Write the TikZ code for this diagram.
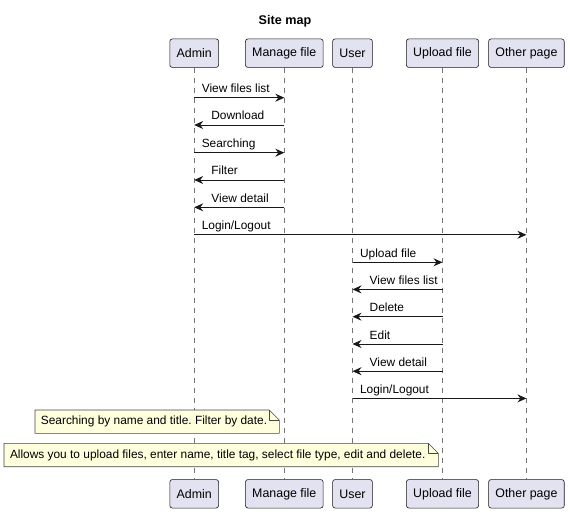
\documentclass[tikz,border=0pt]{standalone}
\usepackage{fontspec}
\setmainfont{Liberation Sans}
\usetikzlibrary{arrows.meta}
\definecolor{partfill}{HTML}{E2E2F0}
\definecolor{ink}{HTML}{181818}
\definecolor{notefill}{HTML}{FEFFDD}
\frenchspacing
\begin{document}
\begin{tikzpicture}[x=1pt,y=-1pt,
  part/.style={draw=ink, fill=partfill, line width=0.6pt, rounded corners=2.5pt,
    inner xsep=6.8pt, inner ysep=0pt, minimum height=28.5pt,
    font=\fontsize{12.4}{14}\selectfont},
  life/.style={draw=ink!60, line width=0.6pt, dash pattern=on 5pt off 5pt},
  msg/.style={draw=ink, line width=0.9pt,
    -{Stealth[length=9pt,width=8pt,inset=3pt]}},
  lbl/.style={inner sep=0pt, anchor=base west, font=\fontsize{11.9}{13}\selectfont},
  notebox/.style={draw=ink!80, fill=notefill, line width=0.6pt, line join=round},
  notetext/.style={inner sep=0pt, anchor=west, font=\fontsize{11.9}{13}\selectfont}]
\useasboundingbox (0,0) rectangle (570,513);

% title
\node[font=\bfseries\fontsize{12.6}{14}\selectfont] (title) at (285,21) {Site map};

% participants, top and bottom
\node[part] (aT)  at (194.2,53.2) {Admin};
\node[part] (mT)  at (284.3,53.2) {Manage file};
\node[part] (uT)  at (352.5,53.2) {User};
\node[part] (upT) at (442.5,53.2) {Upload file};
\node[part] (oT)  at (526.4,53.2) {Other page};
\node[part] (aB)  at (194.2,493.8) {Admin};
\node[part] (mB)  at (284.3,493.8) {Manage file};
\node[part] (uB)  at (352.5,493.8) {User};
\node[part] (upB) at (442.5,493.8) {Upload file};
\node[part] (oB)  at (526.4,493.8) {Other page};

% lifelines
\draw[life] (aT.south) -- (aB.north);
\draw[life] (mT.south) -- (mB.north);
\draw[life] (uT.south) -- (uB.north);
\draw[life] (upT.south) -- (upB.north);
\draw[life] (oT.south) -- (oB.north);

% message rows
\coordinate (r1) at (0,97.7);
\coordinate (r2) at (0,125);
\coordinate (r3) at (0,152.7);
\coordinate (r4) at (0,180);
\coordinate (r5) at (0,207.3);
\coordinate (r6) at (0,234.8);
\coordinate (r7) at (0,262.3);
\coordinate (r8) at (0,289.4);
\coordinate (r9) at (0,316.7);
\coordinate (r10) at (0,344);
\coordinate (r11) at (0,371.2);
\coordinate (r12) at (0,398.4);

% Admin <-> Manage file
\draw[msg] (aT |- r1) -- (mT |- r1);
\node[lbl] (l1) at ([xshift=7.4pt,yshift=5pt]aT |- r1) {View files list};
\draw[msg] (mT |- r2) -- (aT |- r2);
\node[lbl] (l2) at ([xshift=17pt,yshift=5pt]aT |- r2) {Download};
\draw[msg] (aT |- r3) -- (mT |- r3);
\node[lbl] (l3) at ([xshift=7.4pt,yshift=5pt]aT |- r3) {Searching};
\draw[msg] (mT |- r4) -- (aT |- r4);
\node[lbl] (l4) at ([xshift=17pt,yshift=5pt]aT |- r4) {Filter};
\draw[msg] (mT |- r5) -- (aT |- r5);
\node[lbl] (l5) at ([xshift=17pt,yshift=5pt]aT |- r5) {View detail};
\draw[msg] (aT |- r6) -- (oT |- r6);
\node[lbl] (l6) at ([xshift=7.4pt,yshift=5pt]aT |- r6) {Login/Logout};

% User <-> Upload file
\draw[msg] (uT |- r7) -- (upT |- r7);
\node[lbl] (l7) at ([xshift=7.4pt,yshift=5pt]uT |- r7) {Upload file};
\draw[msg] (upT |- r8) -- (uT |- r8);
\node[lbl] (l8) at ([xshift=17pt,yshift=5pt]uT |- r8) {View files list};
\draw[msg] (upT |- r9) -- (uT |- r9);
\node[lbl] (l9) at ([xshift=17pt,yshift=5pt]uT |- r9) {Delete};
\draw[msg] (upT |- r10) -- (uT |- r10);
\node[lbl] (l10) at ([xshift=17pt,yshift=5pt]uT |- r10) {Edit};
\draw[msg] (upT |- r11) -- (uT |- r11);
\node[lbl] (l11) at ([xshift=17pt,yshift=5pt]uT |- r11) {View detail};
\draw[msg] (uT |- r12) -- (oT |- r12);
\node[lbl] (l12) at ([xshift=7.4pt,yshift=5pt]uT |- r12) {Login/Logout};

% notes with folded corner
\path[notebox] (35,410) -- (269.3,410) -- (279.3,420) -- (279.3,433.3) -- (35,433.3) -- cycle;
\draw[notebox, fill=none] (269.3,410) -- (269.3,420) -- (279.3,420);
\node[notetext] (note1) at (40.7,421.8) {Searching by name and title. Filter by date.};

\path[notebox] (4,443.3) -- (428.3,443.3) -- (438.3,453.3) -- (438.3,466.7) -- (4,466.7) -- cycle;
\draw[notebox, fill=none] (428.3,443.3) -- (428.3,453.3) -- (438.3,453.3);
\node[notetext] (note2) at (9.8,455.1) {Allows you to upload files, enter name, title tag, select file type, edit and delete.};
\end{tikzpicture}
\end{document}
